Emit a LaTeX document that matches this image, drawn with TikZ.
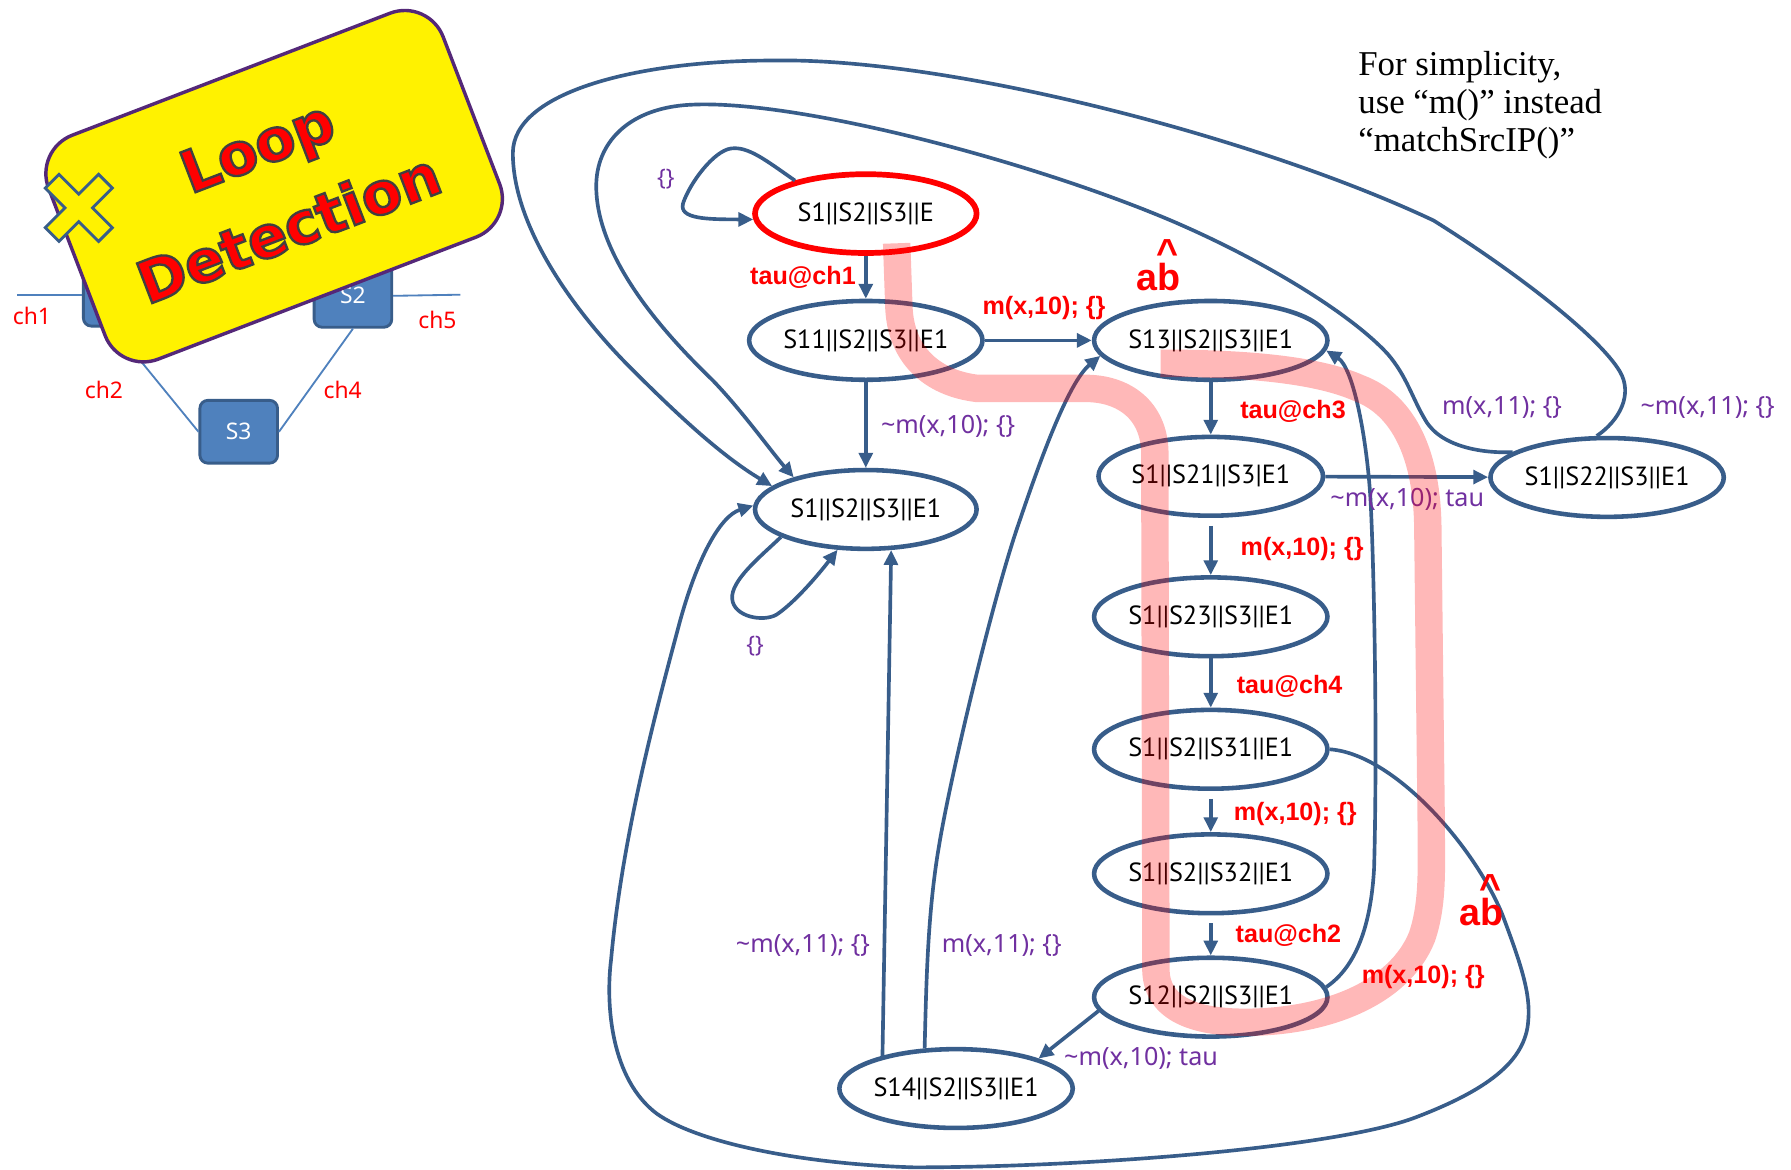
\documentclass[tikz,border=0pt]{standalone}
\usepackage{fontspec}
\setmainfont{Liberation Serif}
\newfontfamily\nodefont{PT Sans}
\newfontfamily\lblfont{Noto Sans}
\newfontfamily\boldfont{Liberation Sans}
\newfontfamily\signfont{DejaVu Sans}[UprightFont={* Bold}, FakeBold=4]
\usetikzlibrary{shapes.geometric,arrows.meta}

\definecolor{edgeblue}{RGB}{56,93,138}
\definecolor{boxblue}{RGB}{79,129,189}
\definecolor{lblpurple}{RGB}{112,48,160}
\definecolor{signpurple}{RGB}{84,40,120}

% red letters with a thin dark rim
\newcommand{\rimtext}[1]{{\color{red}\special{pdf:literal direct 0.25 0.25 0.25 RG}#1}}

\begin{document}
\begin{tikzpicture}[x=1pt,y=-1pt,
  state/.style={ellipse, draw=edgeblue, line width=4pt, minimum width=194pt,
    minimum height=69pt, inner sep=0pt, font=\nodefont\fontsize{23}{26}\selectfont},
  arr/.style={draw=edgeblue, line width=3.2pt, -{Triangle[length=13pt,width=12pt]}},
  redlbl/.style={text=red, inner sep=0pt, font=\boldfont\bfseries\fontsize{22}{24}\selectfont},
  purplbl/.style={text=lblpurple, inner sep=0pt, font=\lblfont\fontsize{22}{24}\selectfont},
  hatlbl/.style={text=red, inner sep=0pt, align=center, anchor=south,
    font=\boldfont\bfseries\fontsize{33}{35}\selectfont},
  swbox/.style={rectangle, rounded corners=7pt, fill=boxblue, draw=edgeblue, line width=2.5pt,
    minimum width=68pt, minimum height=55pt, inner sep=0pt, text=white,
    font=\lblfont\fontsize{20}{22}\selectfont},
  netline/.style={draw=boxblue, line width=1.6pt},
  chlbl/.style={text=red, inner sep=0pt, font=\lblfont\fontsize{20}{22}\selectfont},
  signbox/.style={rectangle, draw=signpurple, line width=3pt, fill=yellow, rounded corners=36pt,
    minimum width=370pt, minimum height=210pt, rotate=21, inner sep=0pt},
  signtxt/.style={rotate=21, inner sep=0pt, align=center, text=red,
    font=\signfont\fontsize{51}{77}\selectfont},
  notetxt/.style={anchor=base west, inner sep=0pt, font=\fontsize{30.5}{34}\selectfont},
  band/.style={draw=red, line width=24pt, opacity=0.28}
]
\useasboundingbox (0,0) rectangle (1568,1024);
\fill[white] (0,0) rectangle (1568,1024);

% ---------- small network ----------
\node[swbox] (S1) at (107,258) {S1};
\node[swbox] (S2) at (309,259) {S2};
\node[swbox] (S3) at (209,378) {S3};
\coordinate (ch1end) at (15,258);
\coordinate (ch5end) at (403,258);
\draw[netline] (ch1end) -- (S1.west);
\draw[netline] (S2.east) -- (ch5end);
\draw[netline] (S1.255) -- (S3.west);
\draw[netline] (S2.south) -- (S3.east);
\node[chlbl] (c1) at (28,277) {ch1};
\node[chlbl] (c2) at (91,341) {ch2};
\node[chlbl] (c4) at (300,341) {ch4};
\node[chlbl] (c5) at (383,280) {ch5};

% ---------- sign ----------
\node[signbox] (sign) at (240,163) {};
\node[signtxt] (signtext) at (239,164) {\rimtext{Loop}\\\rimtext{Detection}};
\begin{scope}[shift={(69,182)}, rotate=45]
  \filldraw[fill=yellow, draw=edgeblue, line width=2.5pt]
    (8.5,8.5) -- (8.5,33) -- (-8.5,33) -- (-8.5,8.5) -- (-33,8.5) -- (-33,-8.5) -- (-8.5,-8.5)
    -- (-8.5,-33) -- (8.5,-33) -- (8.5,-8.5) -- (33,-8.5) -- (33,8.5) -- cycle;
\end{scope}

% ---------- note ----------
\node[notetxt] (n1) at (1189,66) {For simplicity,};
\node[notetxt] (n2) at (1189,99) {use “m()” instead};
\node[notetxt] (n3) at (1189,133) {“matchSrcIP()”};

% ---------- states ----------
\node[state, draw=red, line width=5pt] (A) at (758,187) {S1||S2||S3||E};
\node[state] (B) at (758,298) {S11||S2||S3||E1};
\node[state] (C) at (758,446) {S1||S2||S3||E1};
\node[state] (D) at (1060,298) {S13||S2||S3||E1};
\node[state] (E) at (1060,417) {S1||S21||S3|E1};
\node[state] (F) at (1407,418) {S1||S22||S3||E1};
\node[state] (G) at (1060,540) {S1||S23||S3||E1};
\node[state] (H) at (1060,656) {S1||S2||S31||E1};
\node[state] (I) at (1060,765) {S1||S2||S32||E1};
\node[state] (J) at (1060,873) {S12||S2||S3||E1};
\node[state] (K) at (837,953) {S14||S2||S3||E1};

% ---------- transitions ----------
\draw[arr] (A.155) .. controls (670,140) and (655,128) .. (640,130)
  .. controls (625,132) and (604,160) .. (598,178)
  .. controls (594,192) and (620,192) .. (A.183);
\draw[arr] (C.198) .. controls (665,488) and (640,508) .. (641,524)
  .. controls (642,540) and (668,545) .. (680,538)
  .. controls (695,528) and (715,505) .. (C.235);
\draw[arr] (A) -- (B);
\draw[arr] (B) -- (C);
\draw[arr] (B) -- (D);
\draw[arr] (D) -- (E);
\draw[arr] (E) -- (F);
\draw[arr, shorten <=7pt] (E) -- (G);
\draw[arr] (G) -- (H);
\draw[arr, shorten <=7pt] (H) -- (I);
\draw[arr, shorten <=7pt] (I) -- (J);
\draw[arr] (J.187) -- (K.20);
\draw[arr] (K.156) -- (C.302);
\draw[arr] (K.128) .. controls (811,860) and (812,800) .. (822,741)
  .. controls (832,680) and (870,520) .. (893,455)
  .. controls (910,405) and (935,335) .. (D.188);
\draw[arr] (J.5) .. controls (1185,848) and (1200,815) .. (1203,760)
  .. controls (1206,650) and (1203,500) .. (1200,440)
  .. controls (1197,385) and (1185,322) .. (D.355);
% outer return loop from S1||S22||S3||E1
\draw[arr] (F.104) .. controls (1418,368) and (1430,345) .. (1418,325)
  .. controls (1400,295) and (1330,240) .. (1255,193)
  .. controls (1100,120) and (830,50) .. (676,53)
  .. controls (560,53) and (449,80) .. (449,134)
  .. controls (449,200) and (505,275) .. (552,322)
  .. controls (590,360) and (630,398) .. (C.166);
% inner return loop from S1||S22||S3||E1
\draw[arr] (F.165) .. controls (1300,397) and (1262,392) .. (1248,368)
  .. controls (1236,348) and (1232,330) .. (1215,310)
  .. controls (1180,272) and (1100,225) .. (1025,193)
  .. controls (900,140) and (690,85) .. (600,92)
  .. controls (550,96) and (522,125) .. (522,163)
  .. controls (522,230) and (590,300) .. (624,333)
  .. controls (650,360) and (675,395) .. (C.156);
% long loop from S1||S2||S31||E1
\draw[arr] (H.east) .. controls (1220,660) and (1290,740) .. (1315,800)
  .. controls (1332,845) and (1340,870) .. (1338,893)
  .. controls (1336,930) and (1300,955) .. (1240,978)
  .. controls (1170,1005) and (950,1022) .. (800,1022)
  .. controls (700,1019) and (610,1000) .. (575,975)
  .. controls (535,945) and (530,880) .. (535,840)
  .. controls (545,730) and (575,620) .. (595,545)
  .. controls (610,490) and (630,452) .. (C.178);

% ---------- labels ----------
\node[purplbl, font=\lblfont\fontsize{20}{22}\selectfont] (la) at (583,157) {\{\}};
\node[purplbl, font=\lblfont\fontsize{20}{22}\selectfont] (lc) at (661,566) {\{\}};
\node[redlbl] (lab) at (703,243) {tau@ch1};
\node[redlbl] (lbd) at (914,270) {m(x,10); \{\}};
\node[purplbl] (lbc) at (830,373) {\textasciitilde m(x,10); \{\}};
\node[redlbl] (lde) at (1132,360) {tau@ch3};
\node[purplbl] (lef) at (1232,437) {\textasciitilde m(x,10); tau};
\node[purplbl] (lf1) at (1315,357) {m(x,11); \{\}};
\node[purplbl] (lf2) at (1495,357) {\textasciitilde m(x,11); \{\}};
\node[redlbl] (leg) at (1140,481) {m(x,10); \{\}};
\node[redlbl] (lgh) at (1129,601) {tau@ch4};
\node[redlbl] (lhi) at (1134,713) {m(x,10); \{\}};
\node[redlbl] (lij) at (1128,819) {tau@ch2};
\node[redlbl] (ljd) at (1246,855) {m(x,10); \{\}};
\node[purplbl] (lkc) at (703,828) {\textasciitilde m(x,11); \{\}};
\node[purplbl] (lkd) at (877,828) {m(x,11); \{\}};
\node[purplbl] (ljk) at (999,927) {\textasciitilde m(x,10); tau};
\node[hatlbl] (ab1) at (1014,255) {\hspace*{16pt}\textasciicircum\\[-13pt]ab};
\node[hatlbl] (ab2) at (1297,811) {\hspace*{16pt}\textasciicircum\\[-13pt]ab};

% ---------- highlighted loop ----------
\draw[band] (785,213) -- (787,270) .. controls (789,310) and (815,335) .. (855,340)
  -- (950,340) .. controls (985,340) and (1010,360) .. (1011,395)
  -- (1012,850) .. controls (1013,880) and (1040,895) .. (1090,895)
  .. controls (1160,895) and (1225,870) .. (1245,820)
  .. controls (1255,790) and (1253,760) .. (1253,720)
  -- (1250,460) .. controls (1249,400) and (1230,355) .. (1190,340)
  .. controls (1150,322) and (1080,318) .. (1016,318);
\end{tikzpicture}
\end{document}
